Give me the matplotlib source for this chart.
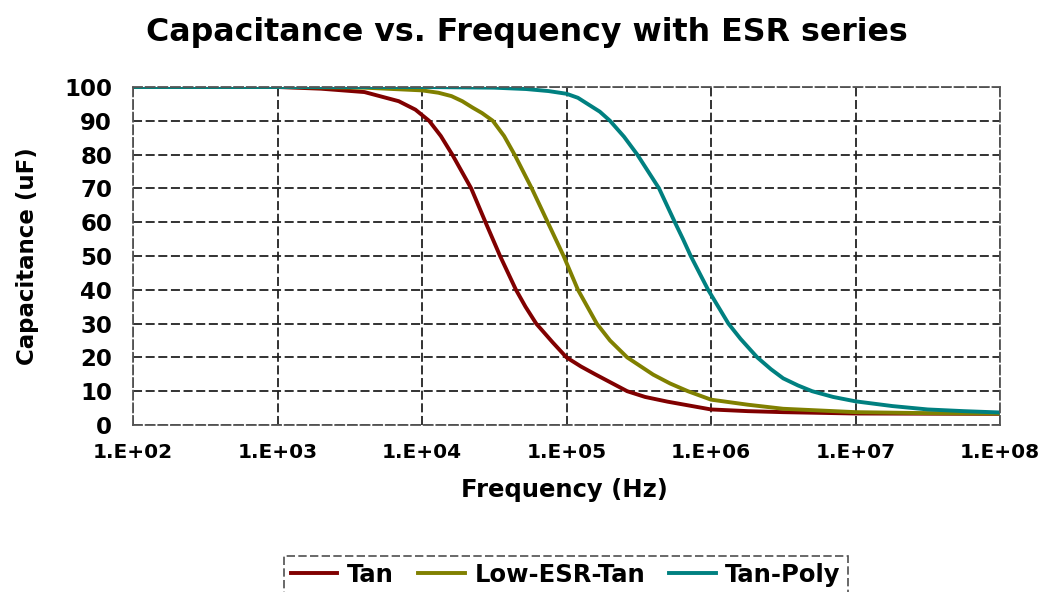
import matplotlib
matplotlib.use("Agg")
import matplotlib.pyplot as plt

# values (frequency in Hz, capacitance in uF)
tan_freq = [1e2, 1e3, 2e3, 4e3, 6.9e3, 9e3, 1.12e4, 1.35e4, 1.62e4, 2.19e4,
            2.75e4, 3.47e4, 4.47e4, 5.2e4, 6.17e4, 8e4, 1e5, 1.26e5, 1.58e5,
            2.63e5, 3.5e5, 5.01e5, 1e6, 1.8e6, 3.16e6, 1e7, 1e8]
tan_cap = [100, 100, 99.5, 98.5, 95.8, 93.3, 90, 85.5, 80, 70,
           60, 50, 40, 35, 30, 24.5, 20, 17.3, 15,
           10, 8.3, 6.9, 4.6, 4.1, 3.8, 3.4, 3.3]

lowesr_freq = [1e2, 1e3, 4e3, 1e4, 1.3e4, 1.6e4, 1.9e4, 2.24e4, 2.6e4, 3.09e4,
               3.7e4, 4.37e4, 5.75e4, 7.41e4, 9.55e4, 1.2e5, 1.62e5, 2e5, 2.63e5,
               3.98e5, 5.2e5, 6.92e5, 1e6, 1.8e6, 3.16e6, 1e7, 3.16e7, 1e8]
lowesr_cap = [100, 100, 99.8, 99, 98.3, 97.3, 95.8, 93.9, 92.3, 90,
              85.5, 80, 70, 60, 50, 40, 30, 25, 20,
              14.9, 12.3, 10, 7.5, 6, 4.8, 3.8, 3.5, 3.4]

poly_freq = [1e2, 1e3, 1e4, 3.16e4, 5.25e4, 7.5e4, 1e5, 1.2e5, 1.41e5, 1.7e5,
             2e5, 2.5e5, 3.09e5, 4.37e5, 5.62e5, 6.4e5, 7.24e5, 9.55e5, 1.32e6,
             1.6e6, 2.09e6, 2.6e6, 3.16e6, 4e6, 5.01e6, 7e6, 1e7, 1.8e7, 3.16e7,
             5.6e7, 1e8]
poly_cap = [100, 100, 100, 99.8, 99.4, 98.8, 98, 96.8, 94.9, 92.7,
            90, 85.3, 80, 70, 60, 55, 50, 40, 30,
            25.5, 20, 16.5, 13.8, 11.7, 10, 8.3, 7, 5.6, 4.6,
            4.1, 3.7]

series_names = ["Tan", "Low-ESR-Tan", "Tan-Poly"]
series_colors = ["#800000", "#808000", "#008080"]

xtick_vals = [1e2, 1e3, 1e4, 1e5, 1e6, 1e7, 1e8]
xtick_labels = ["1.E+02", "1.E+03", "1.E+04", "1.E+05", "1.E+06", "1.E+07", "1.E+08"]
ytick_vals = list(range(0, 101, 10))

plt.rcParams["font.family"] = ["DejaVu Sans"]
plt.rcParams["font.weight"] = "bold"

fig = plt.figure(figsize=(10.54, 5.92), dpi=100)
ax = fig.add_axes([133 / 1054, 1 - 425 / 592, 867 / 1054, 338 / 592])

data = [(tan_freq, tan_cap), (lowesr_freq, lowesr_cap), (poly_freq, poly_cap)]
for (f, c), name, col in zip(data, series_names, series_colors):
    ax.plot(f, c, color=col, lw=2.8, label=name, solid_joinstyle="round")

ax.set_xscale("log")
ax.set_xlim(1e2, 1e8)
ax.set_ylim(0, 100)
ax.set_xticks(xtick_vals)
ax.set_xticklabels(xtick_labels)
ax.minorticks_off()
ax.set_yticks(ytick_vals)
ax.tick_params(axis="x", length=0, pad=13, labelsize=14.5)
ax.tick_params(axis="y", length=0, pad=15, labelsize=16.5)
for lab in ax.get_xticklabels() + ax.get_yticklabels():
    lab.set_fontweight("bold")

ax.grid(True, color="#222222", lw=1.3, linestyle=(0, (5, 2)))
ax.set_axisbelow(True)
for sp in ax.spines.values():
    sp.set_linestyle((0, (5, 2)))
    sp.set_color("#555555")
    sp.set_linewidth(1.3)

fig.text(0.5, 1 - 32 / 592, "Capacitance vs. Frequency with ESR series",
         ha="center", va="center", fontsize=22.8, fontweight="bold")
fig.text(28 / 1054, 1 - 256 / 592, "Capacitance (uF)", rotation=90,
         ha="center", va="center", fontsize=16.5, fontweight="bold")
fig.text(564 / 1054, 1 - 490 / 592, "Frequency (Hz)",
         ha="center", va="center", fontsize=17.5, fontweight="bold")

leg = fig.legend(loc="center", bbox_to_anchor=(566 / 1054, 1 - 575 / 592), ncol=3,
                 fancybox=False, handlelength=1.9, handletextpad=0.4,
                 columnspacing=1.0, borderpad=0.3,
                 prop={"size": 17.5, "weight": "bold"})
leg.get_frame().set_edgecolor("#222222")
leg.get_frame().set_linestyle((0, (5, 2)))
leg.get_frame().set_linewidth(1.2)

fig.savefig("out.png", dpi=100)
